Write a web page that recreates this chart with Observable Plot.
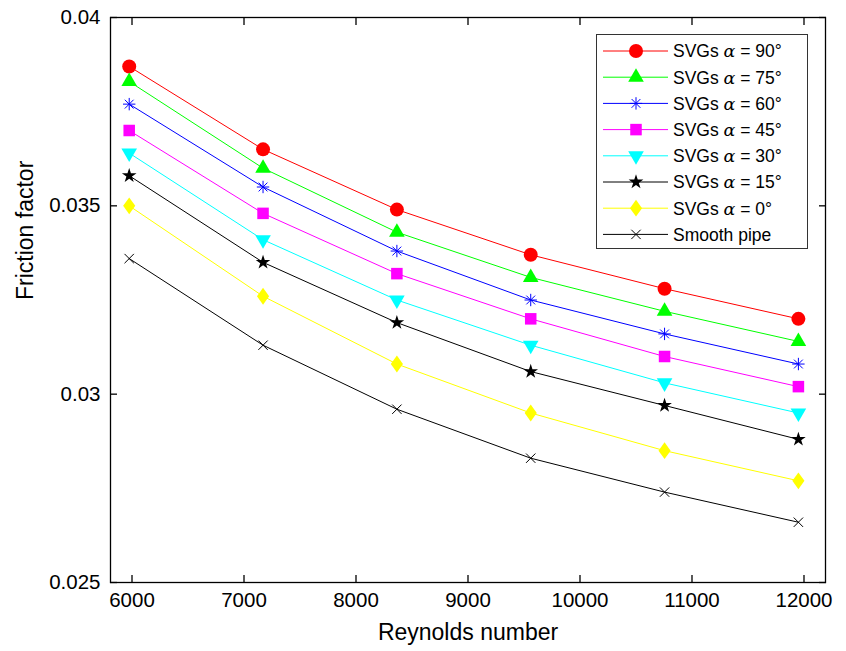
<!DOCTYPE html>
<html><head><meta charset="utf-8">
<script src="https://cdn.jsdelivr.net/npm/d3@7"></script>
<script src="https://cdn.jsdelivr.net/npm/@observablehq/plot@0.6"></script>
<style>
body{margin:0;background:#fff;}
#wrap{position:relative;width:846px;height:651px;font-family:"Liberation Sans",Arial,Helvetica,sans-serif;}
#legend{position:absolute;left:596px;top:34px;}
</style></head><body><div id="wrap"></div>
<script>
// ---- data ----
const reynolds = [5975, 7170, 8365, 9560, 10755, 11950];
const f90 = [0.0387, 0.0365, 0.0349, 0.0337, 0.0328, 0.0320];
const f75 = [0.0383, 0.0360, 0.0343, 0.0331, 0.0322, 0.0314];
const f60 = [0.0377, 0.0355, 0.0338, 0.0325, 0.0316, 0.0308];
const f45 = [0.0370, 0.0348, 0.0332, 0.0320, 0.0310, 0.0302];
const f30 = [0.0364, 0.0341, 0.0325, 0.0313, 0.0303, 0.0295];
const f15 = [0.0358, 0.0335, 0.0319, 0.0306, 0.0297, 0.0288];
const f0  = [0.0350, 0.0326, 0.0308, 0.0295, 0.0285, 0.0277];
const fSmooth = [0.0336, 0.0313, 0.0296, 0.0283, 0.0274, 0.0266];
const seriesKeys = ["90", "75", "60", "45", "30", "15", "0", "smooth"];
const seriesValues = [f90, f75, f60, f45, f30, f15, f0, fSmooth];
const seriesAngles = ["90°", "75°", "60°", "45°", "30°", "15°", "0°", null];
const seriesColors = ["#ff0000", "#00ff00", "#0000ff", "#ff00ff", "#00ffff", "#000000", "#ffff00", "#000000"];
const xTicks = [6000, 7000, 8000, 9000, 10000, 11000, 12000];
const yTicks = [0.025, 0.03, 0.035, 0.04];
const yTickLabels = ["0.025", "0.03", "0.035", "0.04"];
const xLabel = "Reynolds number";
const yLabel = "Friction factor";
const smoothLabel = "Smooth pipe";

// ---- custom symbols ----
const diamondSym = {draw(ctx, size) {const h = Math.sqrt(size) * 0.95, w = h * 0.72; ctx.moveTo(0, -h); ctx.lineTo(w, 0); ctx.lineTo(0, h); ctx.lineTo(-w, 0); ctx.closePath();}};
const asteriskSym = {draw(ctx, size) {const r = Math.sqrt(size / Math.PI); const d = r * Math.SQRT1_2;
  ctx.moveTo(0, -r); ctx.lineTo(0, r); ctx.moveTo(-r, 0); ctx.lineTo(r, 0);
  ctx.moveTo(-d, -d); ctx.lineTo(d, d); ctx.moveTo(-d, d); ctx.lineTo(d, -d);}};
const timesSym = {draw(ctx, size) {const r = Math.sqrt(size / Math.PI) * 0.72;
  ctx.moveTo(-r, -r); ctx.lineTo(r, r); ctx.moveTo(-r, r); ctx.lineTo(r, -r);}};
// marker styles per series
const markerStyles = [
  {symbol: "circle", r: 7, filled: true},
  {symbol: "triangle", r: 5.8, filled: true},
  {symbol: asteriskSym, r: 6.2, filled: false},
  {symbol: "square", r: 6.5, filled: true},
  {symbol: "triangle", r: 5.8, filled: true, rotate: 180},
  {symbol: "star", r: 4.6, filled: true},
  {symbol: diamondSym, r: 5, filled: true},
  {symbol: timesSym, r: 6.5, filled: false}
];

const rows = [];
seriesKeys.forEach((k, i) => reynolds.forEach((x, j) => rows.push({x, y: seriesValues[i][j], s: k})));

const marks = [];
seriesKeys.forEach((k, i) => {
  const d = rows.filter(r => r.s === k);
  marks.push(Plot.line(d, {x: "x", y: "y", stroke: seriesColors[i], strokeWidth: 1}));
});
seriesKeys.forEach((k, i) => {
  const d = rows.filter(r => r.s === k);
  const m = markerStyles[i];
  const opts = {x: "x", y: "y", symbol: m.symbol, r: m.r};
  if (m.filled) { opts.fill = seriesColors[i]; opts.stroke = "none"; }
  else { opts.fill = "none"; opts.stroke = seriesColors[i]; opts.strokeWidth = 1; }
  if (m.rotate) opts.rotate = m.rotate;
  marks.push(Plot.dot(d, opts));
});

const font = "'Liberation Sans', Arial, Helvetica, sans-serif";
const chart = Plot.plot({
  width: 846, height: 651,
  marginLeft: 110, marginRight: 21, marginTop: 17, marginBottom: 69,
  style: {fontFamily: font, fontSize: "20px", color: "#000", background: "#fff"},
  x: {domain: [5808, 12192]},
  y: {domain: [0.025, 0.04]},
  marks: [
    ...marks,
    Plot.frame({stroke: "#000", strokeWidth: 1.3}),
    Plot.axisX({anchor: "bottom", ticks: xTicks, tickSize: -7, tickFormat: () => "", label: null, strokeWidth: 1.3}),
    Plot.axisX({anchor: "top", ticks: xTicks, tickSize: -7, tickFormat: () => "", label: null, strokeWidth: 1.3}),
    Plot.axisY({anchor: "left", ticks: yTicks, tickSize: -7, tickFormat: () => "", label: null, strokeWidth: 1.3}),
    Plot.axisY({anchor: "right", ticks: yTicks, tickSize: -7, tickFormat: () => "", label: null, strokeWidth: 1.3}),
    Plot.text(xTicks, {x: d => d, text: d => String(d), frameAnchor: "bottom", dy: 24, fontSize: 20.5, fill: "#000"}),
    Plot.text(yTicks, {y: d => d, text: (d, i) => yTickLabels[i], frameAnchor: "left", dx: -10, textAnchor: "end", fontSize: 20.5, fill: "#000"}),
    Plot.text([xLabel], {text: d => d, frameAnchor: "bottom", dy: 57, fontSize: 23}),
    Plot.text([yLabel], {text: d => d, frameAnchor: "left", dx: -85, rotate: -90, fontSize: 23})
  ]
});
document.getElementById("wrap").appendChild(chart);

// ---- legend (overlay inside the plot area) ----
const lw = 212, lh = 215, rowH = 26.2, row0 = 17;
const leg = d3.select("#wrap").append("svg").attr("id", "legend").attr("width", lw).attr("height", lh);
leg.append("rect").attr("x", 0.5).attr("y", 0.5).attr("width", lw - 1).attr("height", lh - 1).attr("fill", "#fff").attr("stroke", "#333").attr("stroke-width", 1);
seriesKeys.forEach((k, i) => {
  const y = row0 + i * rowH;
  const g = leg.append("g");
  g.append("line").attr("x1", 7).attr("x2", 72).attr("y1", y).attr("y2", y).attr("stroke", seriesColors[i]).attr("stroke-width", 1);
  const m = markerStyles[i];
  let sym = typeof m.symbol === "string" ? {circle: d3.symbolCircle, triangle: d3.symbolTriangle, square: d3.symbolSquare, star: d3.symbolStar}[m.symbol] : m.symbol;
  g.append("path").attr("d", d3.symbol(sym, Math.PI * m.r * m.r)())
    .attr("transform", `translate(40,${y})` + (m.rotate ? ` rotate(${m.rotate})` : ""))
    .attr("fill", m.filled ? seriesColors[i] : "none").attr("stroke", m.filled ? "none" : seriesColors[i]);
  const t = g.append("text").attr("x", 77).attr("y", y).attr("dy", "0.36em").attr("font-size", 17.5)
    .attr("font-family", font).attr("fill", "#000");
  if (seriesAngles[i] === null) t.text(smoothLabel);
  else {
    t.append("tspan").text("SVGs ");
    t.append("tspan").attr("font-family", "'DejaVu Serif', 'Liberation Serif', serif").attr("font-style", "italic").text("α");
    t.append("tspan").text(" = " + seriesAngles[i]);
  }
});
</script></body></html>
